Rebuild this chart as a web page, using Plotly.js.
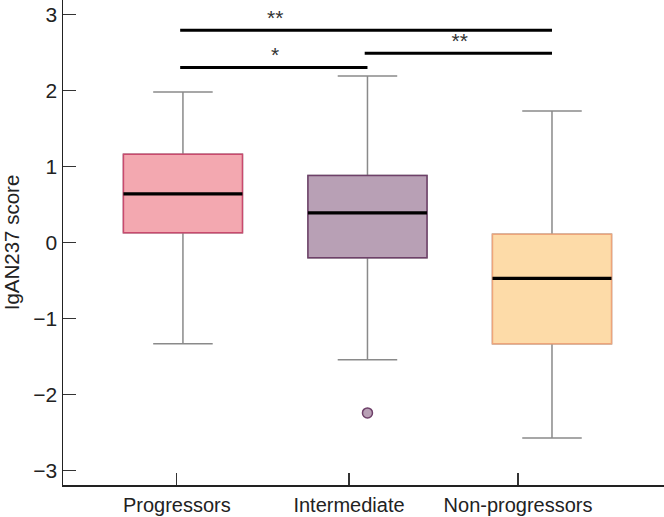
<!DOCTYPE html>
<html><head><meta charset="utf-8">
<script src="https://cdn.plot.ly/plotly-3.0.1.min.js"></script>
<style>html,body{margin:0;padding:0;background:#fff}#chart{width:664px;height:517px}</style>
</head><body><div id="chart"></div>
<script>
// data
const groups = ["Progressors", "Intermediate", "Non-progressors"];
const upperFence = [1.98, 2.19, 1.73];
const q3 = [1.16, 0.88, 0.11];
const median = [0.64, 0.39, -0.47];
const q1 = [0.13, -0.20, -1.33];
const lowerFence = [-1.33, -1.54, -2.57];
const outlierGroup = [1];
const outlierValue = [-2.24];
// significance brackets
const sigFrom = [0, 0, 1];
const sigTo = [2, 1, 2];
const sigY = [2.79, 2.30, 2.49];
const sigLabel = ["**", "*", "**"];

const fills = ["#f3a8b0", "#b8a0b5", "#fddba8"];
const lines = ["#c94a6e", "#6e4069", "#eea57a"];
const BW = 0.645;

const traces = [];
groups.forEach((g, i) => {
  traces.push({type: "box", x: [i], q1: [q1[i]], median: [median[i]], q3: [q3[i]],
    lowerfence: [lowerFence[i]], upperfence: [upperFence[i]], width: BW, whiskerwidth: 0.5,
    line: {color: "#8a8a8a", width: 1.5}, fillcolor: "rgba(0,0,0,0)", showlegend: false, hoverinfo: "skip"});
  traces.push({type: "box", x: [i], q1: [q1[i]], median: [median[i]], q3: [q3[i]],
    lowerfence: [q1[i]], upperfence: [q3[i]], width: BW, whiskerwidth: 0,
    line: {color: lines[i], width: 1.5}, fillcolor: fills[i], showlegend: false, hoverinfo: "skip"});
  traces.push({type: "box", x: [i], q1: [median[i]], median: [median[i]], q3: [median[i]],
    lowerfence: [median[i]], upperfence: [median[i]], width: BW, whiskerwidth: 0,
    line: {color: "#000000", width: 3.2}, fillcolor: "rgba(0,0,0,0)", showlegend: false, hoverinfo: "skip"});
});
traces.push({type: "scatter", mode: "markers", x: outlierGroup, y: outlierValue,
  marker: {size: 10, color: outlierGroup.map(k => fills[k]), line: {color: outlierGroup.map(k => lines[k]), width: 1.5}},
  showlegend: false, hoverinfo: "skip"});
sigFrom.forEach((a, k) => {
  traces.push({type: "scatter", mode: "lines", x: [a - 0.015, sigTo[k]], y: [sigY[k], sigY[k]],
    line: {color: "#000", width: 3}, showlegend: false, hoverinfo: "skip"});
});
traces.push({type: "scatter", mode: "text", x: sigFrom.map((a, k) => (a + sigTo[k]) / 2 + (sigTo[k]-a === 2 ? -0.5 : 0)),
  y: sigY, text: sigLabel, textposition: "top center",
  textfont: {family: "Liberation Sans, Arial, sans-serif", size: 21, color: "#333"}, showlegend: false, hoverinfo: "skip"});

const layout = {
  width: 664, height: 517,
  margin: {l: 63, r: 0, t: 0, b: 32},
  paper_bgcolor: "#fff", plot_bgcolor: "#fff",
  boxmode: "overlay",
  font: {family: "Liberation Sans, Arial, sans-serif", size: 20, color: "#222"},
  xaxis: {range: [-0.65, 2.607], tickvals: [-0.033, 0.90, 1.816], ticktext: groups,
    showline: true, linecolor: "#222", linewidth: 1.5, showgrid: false, zeroline: false,
    ticks: "inside", ticklen: 12, tickwidth: 1.2, tickcolor: "#333", ticklabelstandoff: 1,
    tickfont: {size: 20}},
  yaxis: {range: [-3.188, 3.189], tickvals: [-3, -2, -1, 0, 1, 2, 3],
    showline: true, linecolor: "#222", linewidth: 1.5, showgrid: false, zeroline: false,
    ticks: "inside", ticklen: 13, tickwidth: 1.2, tickcolor: "#333", ticklabelstandoff: 0,
    tickfont: {size: 21},
    title: {text: "IgAN237 score", standoff: 13, font: {size: 20.5}}}
};
Plotly.newPlot("chart", traces, layout, {staticPlot: true});
</script></body></html>
